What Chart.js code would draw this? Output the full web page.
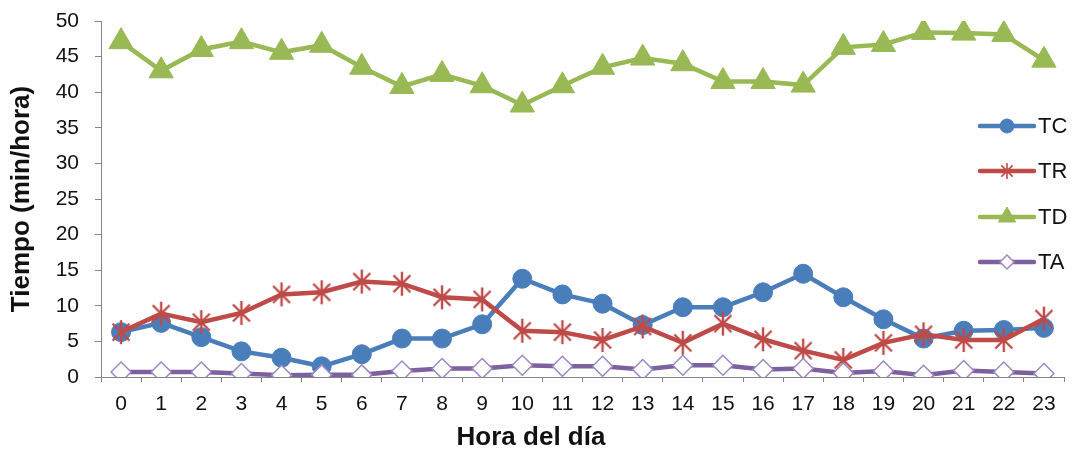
<!DOCTYPE html>
<html>
<head>
<meta charset="utf-8">
<script src="https://cdn.jsdelivr.net/npm/chart.js@4.4.1/dist/chart.umd.min.js"></script>
<style>
    html, body { margin: 0; padding: 0; background: #fff; overflow: hidden; }
    #wrap { width: 1079px; height: 452px; }
</style>
</head>
<body>
<div id="wrap"><canvas id="chart" width="1079" height="452"></canvas></div>
<script>
// Hours of the day (x categories)
const hours = ['0', '1', '2', '3', '4', '5', '6', '7', '8', '9', '10', '11',
    '12', '13', '14', '15', '16', '17', '18', '19', '20', '21', '22', '23'];
// Series values (min/hora)
const tc = [6.3, 7.6, 5.6, 3.6, 2.7, 1.5, 3.2, 5.4, 5.4, 7.4, 13.8, 11.6,
    10.3, 7.3, 9.8, 9.8, 11.9, 14.5, 11.2, 8.1, 5.4, 6.5, 6.6, 6.9];
const tr = [6.3, 8.9, 7.7, 9.0, 11.6, 11.9, 13.4, 13.1, 11.2, 10.9, 6.5, 6.3,
    5.2, 7.1, 4.8, 7.5, 5.3, 3.7, 2.4, 4.8, 6.0, 5.2, 5.2, 8.2];
const td = [47.1, 43.0, 46.0, 47.1, 45.6, 46.6, 43.5, 40.8, 42.5, 40.9, 38.2, 40.9,
    43.5, 44.8, 44.0, 41.5, 41.5, 41.0, 46.3, 46.7, 48.4, 48.3, 48.1, 44.5];
const ta = [0.7, 0.7, 0.7, 0.5, 0.25, 0.3, 0.3, 0.85, 1.2, 1.2, 1.65, 1.5,
    1.5, 1.05, 1.65, 1.65, 1.05, 1.2, 0.55, 0.85, 0.25, 0.9, 0.7, 0.5];
const seriesNames = ['TC', 'TR', 'TD', 'TA'];
const xTitle = 'Hora del día';
const yTitle = 'Tiempo (min/hora)';

const BLUE = '#4A7EBB';
const RED = '#BE4B48';
const GREEN = '#98B954';
const PURPLE = '#7D60A0';
const AXIS = '#868686';
const FAMILY = '"Liberation Sans", Arial, sans-serif';

// Excel-like asterisk marker (X plus a vertical bar)
function makeStar(size, color, lineWidth) {
    const c = document.createElement('canvas');
    c.width = size;
    c.height = size;
    const ctx = c.getContext('2d');
    const m = size / 2;
    const r = size / 2 - 1;
    const d = r * Math.SQRT1_2;
    ctx.strokeStyle = color;
    ctx.lineWidth = lineWidth;
    ctx.beginPath();
    ctx.moveTo(m, m - r); ctx.lineTo(m, m + r);
    ctx.moveTo(m - d, m - d); ctx.lineTo(m + d, m + d);
    ctx.moveTo(m - d, m + d); ctx.lineTo(m + d, m - d);
    ctx.stroke();
    return c;
}

const starBig = makeStar(26, RED, 2.4);
const starSmall = makeStar(18, RED, 1.6);

// Legend drawn inside the plot area on the right, plus the x axis title
const insideLegend = {
    id: 'insideLegend',
    afterDraw(chart) {
        const ctx = chart.ctx;
        const rows = [126, 171, 217, 262];
        const x0 = 980, x1 = 1034, xm = 1007;
        ctx.save();
        chart.data.datasets.forEach((ds, i) => {
            const y = rows[i];
            ctx.strokeStyle = ds.borderColor;
            ctx.lineWidth = 4.5;
            ctx.lineCap = 'round';
            ctx.beginPath();
            ctx.moveTo(x0, y);
            ctx.lineTo(x1, y);
            ctx.stroke();
            ctx.lineCap = 'butt';
            if (ds.label === 'TR') {
                ctx.drawImage(starSmall, xm - 9, y - 9);
            } else {
                const opts = {
                    pointStyle: ds.pointStyle,
                    radius: ds.label === 'TD' ? 10 : 7,
                    borderWidth: ds.pointBorderWidth
                };
                ctx.fillStyle = ds.pointBackgroundColor;
                ctx.strokeStyle = ds.pointBorderColor;
                ctx.lineWidth = ds.pointBorderWidth;
                Chart.helpers.drawPoint(ctx, opts, xm, y);
            }
            ctx.fillStyle = '#111';
            ctx.font = '22px ' + FAMILY;
            ctx.textAlign = 'left';
            ctx.textBaseline = 'middle';
            ctx.fillText(ds.label, 1038, y + 1);
        });
        // x axis title, centred as in the original (not on the plot area)
        ctx.fillStyle = '#111';
        ctx.font = 'bold 26px ' + FAMILY;
        ctx.textAlign = 'center';
        ctx.textBaseline = 'middle';
        ctx.fillText(xTitle, 531, 438);
        ctx.restore();
    }
};

const tickFont = { family: FAMILY, size: 21 };
const titleFont = { family: FAMILY, size: 26, weight: 'bold' };

new Chart(document.getElementById('chart').getContext('2d'), {
    type: 'line',
    data: {
        labels: hours,
        datasets: [
            {
                label: seriesNames[0], data: tc, order: 3,
                borderColor: BLUE, borderWidth: 4.5,
                pointStyle: 'circle', pointRadius: 9.5,
                pointBackgroundColor: BLUE, pointBorderColor: BLUE, pointBorderWidth: 1
            },
            {
                label: seriesNames[1], data: tr, order: 2,
                borderColor: RED, borderWidth: 4.5,
                pointStyle: starBig, pointRadius: 13,
                pointBackgroundColor: RED, pointBorderColor: RED, pointBorderWidth: 1
            },
            {
                label: seriesNames[2], data: td, order: 1,
                borderColor: GREEN, borderWidth: 4.5,
                pointStyle: 'triangle', pointRadius: 14,
                pointBackgroundColor: GREEN, pointBorderColor: GREEN, pointBorderWidth: 1
            },
            {
                label: seriesNames[3], data: ta, order: 0,
                borderColor: PURPLE, borderWidth: 4.5,
                pointStyle: 'rectRot', pointRadius: 10,
                pointBackgroundColor: '#ffffff', pointBorderColor: '#9C88C2', pointBorderWidth: 1.5
            }
        ]
    },
    options: {
        responsive: false,
        animation: false,
        layout: { padding: { top: 21, right: 0, bottom: 0, left: 0 } },
        plugins: {
            legend: { display: false },
            tooltip: { enabled: false }
        },
        elements: { line: { tension: 0 } },
        scales: {
            x: {
                offset: true,
                grid: { display: true, drawOnChartArea: false, drawTicks: true, tickLength: 5, color: AXIS, offset: true },
                border: { color: AXIS, width: 1 },
                ticks: { color: '#111', font: tickFont, padding: 10, maxRotation: 0, autoSkip: false },
                afterFit(scale) {
                    scale.height = 75;
                    scale.paddingLeft = 0;
                    scale.paddingRight = 0;
                }
            },
            y: {
                min: 0,
                max: 50,
                grid: { display: true, drawOnChartArea: false, drawTicks: true, tickLength: 6, color: AXIS },
                border: { color: AXIS, width: 1 },
                ticks: { stepSize: 5, color: '#111', font: tickFont, padding: 16 },
                title: { display: true, text: yTitle, color: '#111', font: titleFont, padding: { top: 6, bottom: 0 } },
                afterFit(scale) {
                    scale.width = 101;
                    scale.paddingTop = 0;
                    scale.paddingBottom = 0;
                }
            }
        }
    },
    plugins: [insideLegend]
});
</script>
</body>
</html>
